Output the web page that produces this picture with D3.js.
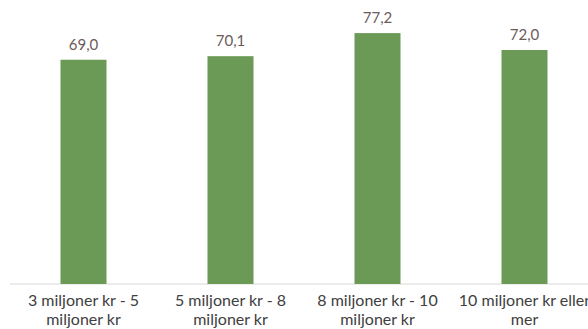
<!DOCTYPE html>
<html>
<head>
<meta charset="utf-8">
<script src="https://cdn.jsdelivr.net/npm/d3@7"></script>
<style>
  body { margin: 0; background: #fff; }
  svg { display: block; }
</style>
</head>
<body>
<div id="chart"></div>
<script>
var categories = [
  ['3 miljoner kr - 5', 'miljoner kr'],
  ['5 miljoner kr - 8', 'miljoner kr'],
  ['8 miljoner kr - 10', 'miljoner kr'],
  ['10 miljoner kr eller', 'mer']
];
var values = [69.0, 70.1, 77.2, 72.0];
var valueLabels = ['69,0', '70,1', '77,2', '72,0'];

var width = 588, height = 329;
var fontFam = 'Lato, "Open Sans", sans-serif';

var svg = d3.select('#chart').append('svg')
  .attr('width', width)
  .attr('height', height);

var x = d3.scaleBand()
  .domain(d3.range(values.length))
  .range([10, 598])
  .paddingInner(0.687)
  .paddingOuter(0.3435);

var y = d3.scaleLinear().domain([0, 80]).range([284, 24]);

// axis line
svg.append('line')
  .attr('x1', 10).attr('x2', width)
  .attr('y1', y(0)).attr('y2', y(0))
  .attr('stroke', '#d9d9d9')
  .attr('stroke-width', 1);

svg.selectAll('rect.bar').data(values).enter()
  .append('rect')
    .attr('class', 'bar')
    .attr('x', function(d, i) { return x(i); })
    .attr('y', function(d) { return y(d); })
    .attr('width', x.bandwidth())
    .attr('height', function(d) { return y(0) - y(d); })
    .attr('fill', '#6a9a55');

svg.selectAll('text.val').data(values).enter()
  .append('text')
    .attr('class', 'val')
    .attr('x', function(d, i) { return x(i) + x.bandwidth() / 2; })
    .attr('y', function(d) { return y(d) - 10; })
    .attr('text-anchor', 'middle')
    .attr('font-family', fontFam)
    .attr('font-size', 15)
    .attr('fill', '#6b5c5a')
    .text(function(d, i) { return valueLabels[i]; });

var cat = svg.selectAll('text.cat').data(categories).enter()
  .append('text')
    .attr('class', 'cat')
    .attr('text-anchor', 'middle')
    .attr('font-family', fontFam)
    .attr('font-size', 16)
    .attr('fill', '#404040');

cat.selectAll('tspan').data(function(d, i) {
    return d.map(function(s) { return { s: s, i: i }; });
  }).enter()
  .append('tspan')
    .attr('x', function(d) { return x(d.i) + x.bandwidth() / 2; })
    .attr('y', function(d, j) { return 306 + j * 19; })
    .text(function(d) { return d.s; });
</script>
</body>
</html>
